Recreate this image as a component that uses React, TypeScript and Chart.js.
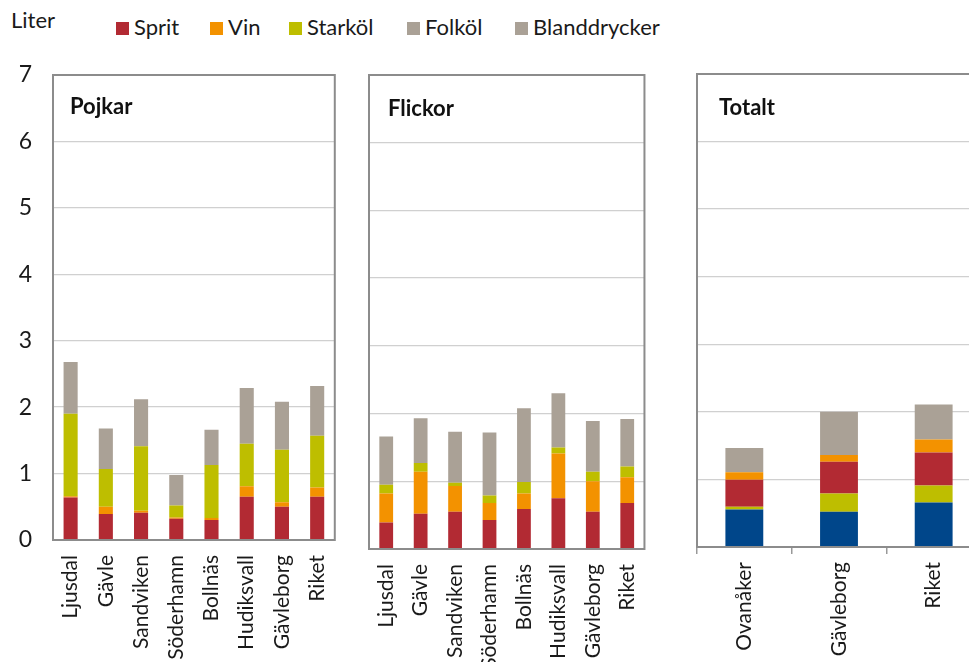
import React, { useEffect, useRef } from "react";
import { Chart, registerables } from "chart.js";

Chart.register(...registerables);

const FONT = "Lato, 'Open Sans', sans-serif";

const legendLabels = ["Sprit", "Vin", "Starköl", "Folköl", "Blanddrycker"];
const yTicks = [0, 1, 2, 3, 4, 5, 6, 7];

const kommuner = ["Ljusdal", "Gävle", "Sandviken", "Söderhamn", "Bollnäs", "Hudiksvall", "Gävleborg", "Riket"];
const totaltKategorier = ["Ovanåker", "Gävleborg", "Riket"];

const pojkarSprit = [0.64, 0.39, 0.41, 0.32, 0.30, 0.65, 0.50, 0.65];
const pojkarVin = [0.02, 0.11, 0.03, 0.02, 0.03, 0.16, 0.07, 0.14];
const pojkarStarkol = [1.24, 0.57, 0.97, 0.18, 0.80, 0.64, 0.79, 0.78];
const pojkarFolkBland = [0.78, 0.61, 0.71, 0.46, 0.53, 0.84, 0.72, 0.75];

const flickorSprit = [0.39, 0.52, 0.55, 0.43, 0.59, 0.75, 0.55, 0.68];
const flickorVin = [0.43, 0.62, 0.38, 0.25, 0.23, 0.66, 0.45, 0.38];
const flickorStarkol = [0.13, 0.13, 0.05, 0.11, 0.17, 0.09, 0.14, 0.16];
const flickorFolkBland = [0.71, 0.66, 0.75, 0.93, 1.09, 0.80, 0.75, 0.70];

const totaltBas = [0.555, 0.52, 0.66];
const totaltStarkol = [0.04, 0.27, 0.25];
const totaltSprit = [0.40, 0.47, 0.49];
const totaltVin = [0.11, 0.10, 0.19];
const totaltFolkBland = [0.36, 0.64, 0.52];

const C_SPRIT = "#B22A33";
const C_VIN = "#F39200";
const C_STARK = "#BEBE00";
const C_GRA = "#AAA196";
const C_BLA = "#00468A";
const legendColors = [C_SPRIT, C_VIN, C_STARK, C_GRA, C_GRA];
const legendX = [116, 210, 289, 407, 515];

type PanelCfg = {
  left: number;
  width: number;
  padLeft: number;
  padRight: number;
  top: number;
  xHeight: number;
  showY: boolean;
  title: string;
  titleDx: number;
  titleDy: number;
  labels: string[];
  datasets: { label: string; data: number[]; color: string }[];
  xTickMarks: boolean;
};

const panelPlugin = {
  id: "panelBox",
  afterDraw(chart: any) {
    const { ctx, chartArea } = chart;
    const o = chart.options.plugins.panelBox;
    ctx.save();
    ctx.strokeStyle = "#8C8C8C";
    ctx.lineWidth = 2;
    ctx.strokeRect(chartArea.left, chartArea.top, chartArea.right - chartArea.left, chartArea.bottom - chartArea.top);
    ctx.fillStyle = "#111";
    ctx.font = "bold 22px " + FONT;
    ctx.textBaseline = "middle";
    ctx.textAlign = "left";
    ctx.fillText(o.title, chartArea.left + o.dx, chartArea.top + o.dy);
    ctx.restore();
  },
};

function Panel({ cfg }: { cfg: PanelCfg }) {
  const ref = useRef<HTMLCanvasElement>(null);
  useEffect(() => {
    if (!ref.current) return;
    const chart = new Chart(ref.current, {
      type: "bar",
      data: {
        labels: cfg.labels,
        datasets: cfg.datasets.map((d) => ({
          label: d.label,
          data: d.data,
          backgroundColor: d.color,
          borderWidth: 0,
          categoryPercentage: 1,
          barPercentage: 0.4,
        })),
      },
      plugins: [panelPlugin],
      options: {
        responsive: false,
        animation: false,
        layout: { padding: { left: cfg.padLeft, right: cfg.padRight, top: cfg.top, bottom: 0 } },
        plugins: {
          legend: { display: false },
          tooltip: { enabled: false },
          panelBox: { title: cfg.title, dx: cfg.titleDx, dy: cfg.titleDy },
        } as any,
        scales: {
          x: {
            stacked: true,
            afterFit: (s: any) => {
              s.height = cfg.xHeight;
            },
            border: { display: false },
            grid: cfg.xTickMarks
              ? { display: true, drawOnChartArea: false, drawTicks: true, tickLength: 7, color: "#999", lineWidth: 1.5, offset: true }
              : { display: false, drawTicks: false },
            ticks: {
              maxRotation: 90,
              minRotation: 90,
              autoSkip: false,
              padding: cfg.xTickMarks ? 8 : 15,
              color: "#1a1a1a",
              font: { family: FONT, size: 21 },
            },
          },
          y: {
            stacked: true,
            min: 0,
            max: 7,
            afterBuildTicks: (s: any) => {
              s.ticks = yTicks.map((v) => ({ value: v }));
            },
            afterFit: (s: any) => {
              s.width = cfg.showY ? 53 - cfg.padLeft : 0;
            },
            border: { display: false },
            grid: { color: "#D0D0D0", lineWidth: 1.3, drawTicks: false },
            ticks: {
              display: cfg.showY,
              padding: 21,
              color: "#1a1a1a",
              font: { family: FONT, size: 23 },
            },
          },
        },
      },
    });
    return () => chart.destroy();
  }, []);
  return (
    <canvas
      ref={ref}
      width={cfg.width}
      height={662}
      style={{ position: "absolute", left: cfg.left, top: 0, width: cfg.width, height: 662 }}
    />
  );
}

const pojkar: PanelCfg = {
  left: 0,
  width: 358,
  padLeft: 0,
  padRight: 10,
  top: 75,
  xHeight: 122,
  showY: true,
  title: "Pojkar",
  titleDx: 17,
  titleDy: 32,
  labels: kommuner,
  xTickMarks: false,
  datasets: [
    { label: "Sprit", data: pojkarSprit, color: C_SPRIT },
    { label: "Vin", data: pojkarVin, color: C_VIN },
    { label: "Starköl", data: pojkarStarkol, color: C_STARK },
    { label: "Folköl/Blanddrycker", data: pojkarFolkBland, color: C_GRA },
  ],
};

const flickor: PanelCfg = {
  left: 356,
  width: 312,
  padLeft: 13,
  padRight: 9,
  top: 75,
  xHeight: 113,
  showY: false,
  title: "Flickor",
  titleDx: 19,
  titleDy: 34,
  labels: kommuner,
  xTickMarks: false,
  datasets: [
    { label: "Sprit", data: flickorSprit, color: C_SPRIT },
    { label: "Vin", data: flickorVin, color: C_VIN },
    { label: "Starköl", data: flickorStarkol, color: C_STARK },
    { label: "Folköl/Blanddrycker", data: flickorFolkBland, color: C_GRA },
  ],
};

const totalt: PanelCfg = {
  left: 668,
  width: 330,
  padLeft: 29,
  padRight: 17,
  top: 74,
  xHeight: 115,
  showY: false,
  title: "Totalt",
  titleDx: 22,
  titleDy: 34,
  labels: totaltKategorier,
  xTickMarks: true,
  datasets: [
    { label: "Bas", data: totaltBas, color: C_BLA },
    { label: "Starköl", data: totaltStarkol, color: C_STARK },
    { label: "Sprit", data: totaltSprit, color: C_SPRIT },
    { label: "Vin", data: totaltVin, color: C_VIN },
    { label: "Folköl/Blanddrycker", data: totaltFolkBland, color: C_GRA },
  ],
};

export default function App() {
  return (
    <div
      style={{
        position: "fixed",
        left: 0,
        top: 0,
        width: 969,
        height: 662,
        overflow: "hidden",
        background: "#fff",
        fontFamily: FONT,
        color: "#1a1a1a",
      }}
    >
      <div style={{ position: "absolute", left: 11, top: 7, fontSize: 22, lineHeight: "26px" }}>Liter</div>
      {legendLabels.map((l, i) => (
        <div key={l}>
          <div
            style={{
              position: "absolute",
              left: legendX[i],
              top: 22,
              width: 13,
              height: 13,
              background: legendColors[i],
            }}
          />
          <div
            style={{
              position: "absolute",
              left: legendX[i] + 18,
              top: 14,
              fontSize: 22,
              lineHeight: "26px",
              whiteSpace: "nowrap",
            }}
          >
            {l}
          </div>
        </div>
      ))}
      <Panel cfg={pojkar} />
      <Panel cfg={flickor} />
      <Panel cfg={totalt} />
    </div>
  );
}
